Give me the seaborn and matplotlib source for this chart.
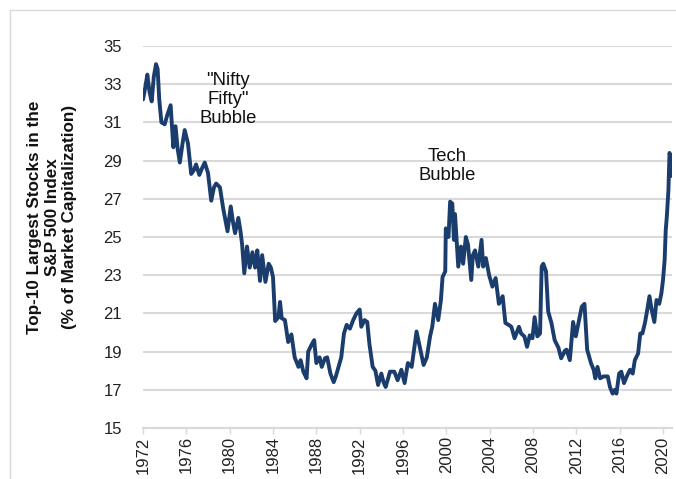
import matplotlib
matplotlib.use("Agg")
import matplotlib.pyplot as plt
import seaborn as sns
import pandas as pd
from matplotlib.lines import Line2D

years = [1972.0, 1972.2, 1972.4, 1972.6, 1972.8, 1973.0, 1973.2, 1973.35, 1973.5, 1973.7,
         1974.0, 1974.25, 1974.55, 1974.8, 1975.0, 1975.2, 1975.4, 1975.65, 1975.85, 1976.15,
         1976.45, 1976.7, 1976.9, 1977.2, 1977.45, 1977.7, 1978.0, 1978.3, 1978.55, 1978.75,
         1979.1, 1979.4, 1979.6, 1979.8, 1980.1, 1980.3, 1980.5, 1980.8, 1981.0, 1981.15,
         1981.35, 1981.6, 1981.85, 1982.1, 1982.35, 1982.55, 1982.8, 1983.0, 1983.3, 1983.6,
         1983.8, 1984.0, 1984.2, 1984.5, 1984.65, 1984.8, 1985.1, 1985.4, 1985.7, 1986.0,
         1986.35, 1986.55, 1986.8, 1987.1, 1987.25, 1987.55, 1987.8, 1988.0, 1988.3, 1988.5,
         1988.8, 1989.0, 1989.3, 1989.6, 1989.8, 1990.05, 1990.3, 1990.55, 1990.8, 1991.1,
         1991.4, 1991.7, 1992.0, 1992.15, 1992.45, 1992.7, 1992.9, 1993.2, 1993.45, 1993.7,
         1994.0, 1994.2, 1994.4, 1994.8, 1995.2, 1995.5, 1995.85, 1996.15, 1996.45, 1996.8,
         1997.05, 1997.25, 1997.55, 1997.9, 1998.2, 1998.5, 1998.7, 1998.95, 1999.25, 1999.5,
         1999.65, 1999.9, 1999.95, 2000.2, 2000.35, 2000.55, 2000.7, 2000.8, 2000.95, 2001.1,
         2001.35, 2001.55, 2001.8, 2002.0, 2002.3, 2002.45, 2002.65, 2002.95, 2003.25, 2003.4,
         2003.65, 2003.95, 2004.25, 2004.55, 2004.85, 2005.2, 2005.45, 2005.75, 2006.0, 2006.3,
         2006.7, 2006.9, 2007.2, 2007.45, 2007.7, 2007.95, 2008.15, 2008.4, 2008.65, 2008.8,
         2008.95, 2009.2, 2009.4, 2009.7, 2010.0, 2010.35, 2010.6, 2010.95, 2011.1, 2011.4,
         2011.7, 2011.95, 2012.2, 2012.5, 2012.75, 2013.0, 2013.35, 2013.6, 2013.75, 2013.95,
         2014.2, 2014.5, 2014.9, 2015.1, 2015.35, 2015.55, 2015.7, 2015.95, 2016.15, 2016.4,
         2016.65, 2016.95, 2017.2, 2017.4, 2017.7, 2017.9, 2018.1, 2018.35, 2018.55, 2018.75,
         2018.95, 2019.2, 2019.4, 2019.65, 2019.85, 2020.0, 2020.15, 2020.25, 2020.35, 2020.5,
         2020.6, 2020.7, 2020.8]

share = [32.2, 32.8, 33.5, 32.6, 32.1, 33.4, 34.05, 33.8, 32.2, 31.0,
         30.9, 31.4, 31.9, 29.7, 30.8, 29.6, 28.9, 29.9, 30.6, 29.9,
         28.3, 28.5, 28.8, 28.25, 28.6, 28.9, 28.35, 26.9, 27.6, 27.8,
         27.6, 26.5, 25.9, 25.3, 26.6, 25.8, 25.2, 26.0, 25.3, 24.6,
         23.1, 24.5, 23.4, 24.2, 23.4, 24.3, 22.7, 24.05, 22.65, 23.6,
         23.4, 22.9, 20.6, 20.8, 21.6, 20.75, 20.65, 19.5, 19.9, 18.7,
         18.2, 18.55, 17.95, 17.6, 19.0, 19.35, 19.6, 18.4, 18.7, 18.2,
         18.65, 18.7, 17.85, 17.4, 17.7, 18.2, 18.7, 19.95, 20.4, 20.2,
         20.65, 21.0, 21.2, 20.3, 20.65, 20.55, 19.4, 18.2, 18.0, 17.25,
         17.85, 17.4, 17.15, 17.95, 17.95, 17.5, 18.05, 17.35, 18.4, 18.2,
         19.25, 20.05, 19.25, 18.3, 18.7, 19.8, 20.3, 21.5, 20.65, 21.7,
         22.9, 23.2, 25.45, 25.0, 26.85, 26.75, 24.85, 26.2, 24.85, 23.45,
         24.5, 23.6, 25.0, 24.6, 22.75, 24.05, 24.3, 23.45, 24.85, 23.45,
         23.9, 23.0, 22.4, 22.85, 21.5, 21.9, 20.5, 20.4, 20.3, 19.7,
         20.3, 19.95, 19.8, 19.25, 19.85, 19.7, 20.8, 19.8, 19.95, 23.45,
         23.6, 23.2, 21.1, 20.5, 19.6, 19.2, 18.65, 19.05, 19.1, 18.55,
         20.55, 19.8, 20.5, 21.35, 21.5, 19.1, 18.4, 18.05, 17.6, 18.2,
         17.6, 17.7, 17.7, 17.15, 16.8, 17.0, 16.8, 17.85, 17.95, 17.35,
         17.7, 18.05, 17.85, 18.55, 18.9, 19.95, 19.95, 20.55, 21.2, 21.9,
         21.2, 20.55, 21.7, 21.5, 22.05, 22.75, 23.8, 25.35, 26.05, 27.45,
         29.4, 29.2, 28.2]

x_ticks = list(range(1972, 2021, 4))
y_ticks = list(range(15, 36, 2))
y_label = "Top-10 Largest Stocks in the\nS&P 500 Index\n(% of Market Capitalization)"
notes = [("\"Nifty\nFifty\"\nBubble", 1979.85, 32.2), ("Tech\nBubble", 2000.06, 28.7)]

sns.set_theme(style="white")
plt.rcParams['font.family'] = ['Liberation Sans', 'DejaVu Sans']

df = pd.DataFrame({"year": years, "share": share})

fig = plt.figure(figsize=(6.76, 4.79), dpi=100)
ax = fig.add_axes([143/676, 1-428/479, (672-143)/676, (428-46)/479])

grid_c = "#d9d9d9"
for yv in y_ticks:
    ax.axhline(yv, color=grid_c, lw=1.5, zorder=0)

sns.lineplot(data=df, x="year", y="share", ax=ax, color="#1b3d6d", lw=2.8, zorder=3)

ax.set_xlim(1972, 2020.83)
ax.set_ylim(15, 35)
ax.set_xticks(x_ticks)
ax.set_xticklabels([str(t) for t in x_ticks], rotation=90, fontsize=12, color="#222222")
ax.set_yticks(y_ticks)
ax.set_yticklabels([str(t) for t in y_ticks], fontsize=12, color="#222222")
for s in ["top", "right", "left"]:
    ax.spines[s].set_visible(False)
ax.spines["bottom"].set_color(grid_c)
ax.spines["bottom"].set_linewidth(1.5)
ax.tick_params(axis="x", bottom=True, length=4, width=1, color=grid_c, pad=2)
ax.tick_params(axis="y", left=False, pad=9)
ax.set_xlabel("")
ax.set_ylabel(y_label, fontsize=12.3, fontweight="bold", linespacing=1.2, color="#111111")
ax.yaxis.label.set_verticalalignment("center")
ax.yaxis.set_label_coords(-0.172, 0.552)

for txt, xv, yv in notes:
    ax.text(xv, yv, txt, ha="center", va="center", fontsize=13.3, linespacing=1.15, color="#111111", zorder=4)

fig.add_artist(Line2D([10/676, 10/676], [0, 1-10/479], color=grid_c, lw=1, transform=fig.transFigure))
fig.add_artist(Line2D([10/676, 1], [1-10/479, 1-10/479], color=grid_c, lw=1, transform=fig.transFigure))

fig.savefig("out.png", dpi=100)
